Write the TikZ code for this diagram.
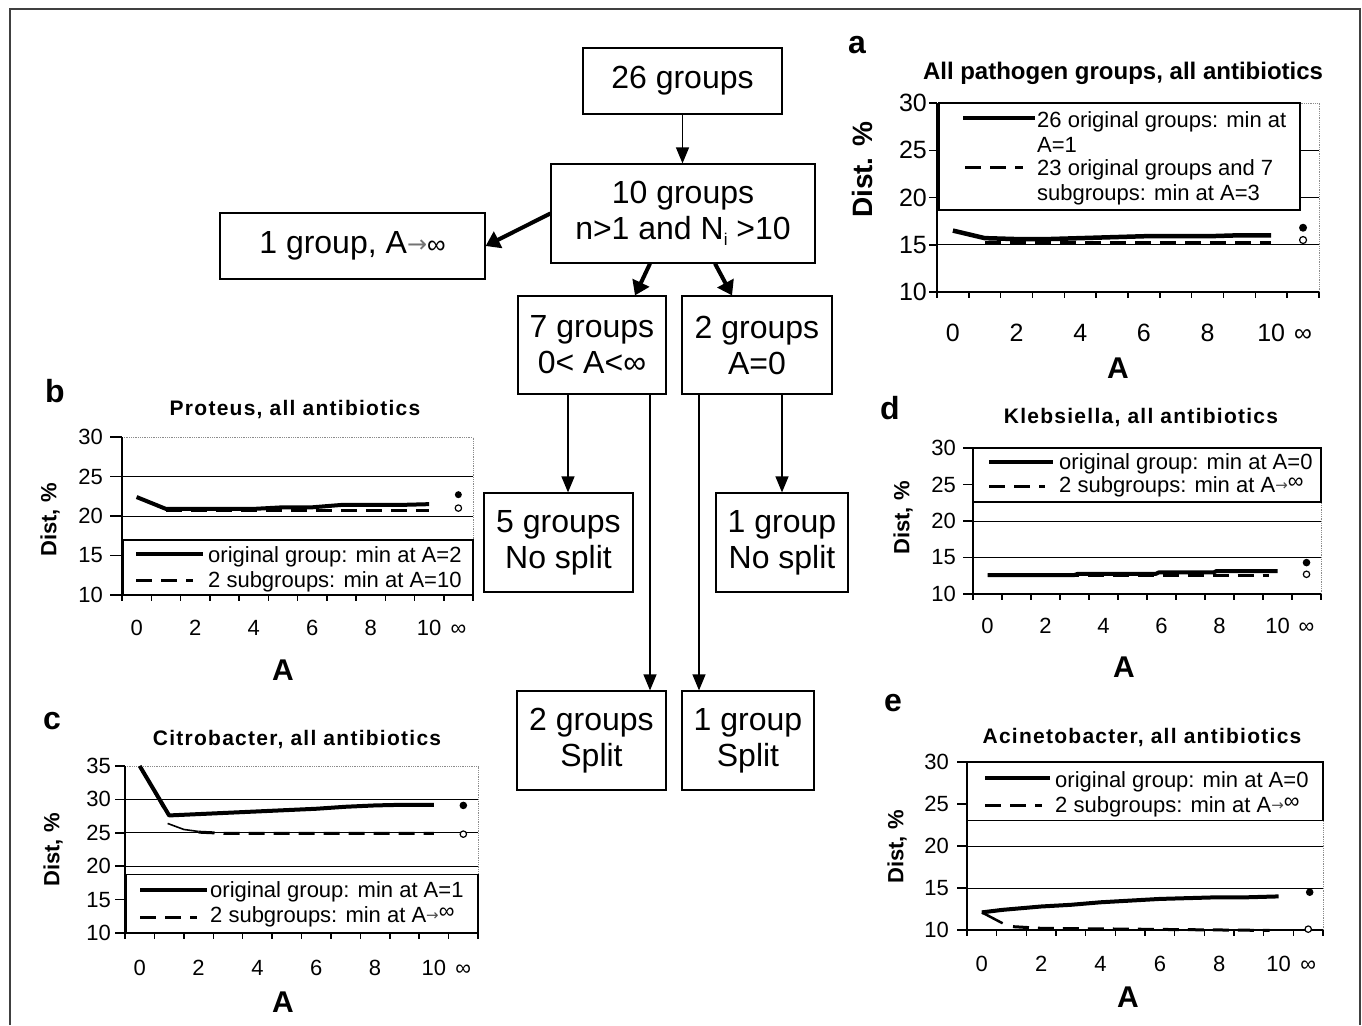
\documentclass[tikz,border=0pt]{standalone}
\usepackage{fontspec}
\setmainfont{Liberation Sans}
\newfontfamily\spacedfont[LetterSpace=6]{Liberation Sans}
\newfontfamily\djv{DejaVu Sans}
\usetikzlibrary{arrows.meta}
\newcommand\fsz[1]{\fontsize{#1}{#1}\selectfont}
\newcommand\infsym{∞}
\newcommand\legarrow{A{\color{black!70}\djv\fsz{15}\raisebox{0.15ex}{→}}{\raisebox{0.3ex}{∞}}}
\begin{document}
\begin{tikzpicture}[x=1pt,y=-1pt,
 box/.style={draw, line width=1.2pt, inner sep=0pt, align=center, font=\fontsize{32}{36}\selectfont},
 arr/.style={line width=1.3pt, -{Triangle[length=16pt,width=13pt]}},
 tarr/.style={line width=4pt, -{Triangle[length=14pt,width=18pt]}},
 gline/.style={line width=1pt},
 dotgrid/.style={line width=0.8pt, densely dotted, black!45},
 axl/.style={line width=1.5pt},
 legbox/.style={draw, line width=1.3pt, fill=white},
 sol/.style={line width=4pt, line join=round},
 dsh/.style={line width=3pt, dash pattern=on 16pt off 9pt},
 tline/.style={line width=1.6pt},
 plet/.style={inner sep=0pt, font=\fsz{32}\bfseries},
 ttla/.style={inner sep=0pt, font=\fsz{24}\bfseries},
 ttl/.style={inner sep=0pt, font=\spacedfont\fsz{21}\bfseries},
 ylabel/.style={inner sep=0pt, rotate=90, font=\fsz{#1}\bfseries},
 xlabel/.style={inner sep=0pt, font=\fsz{30}\bfseries},
 ytl/.style={inner sep=0pt, anchor=east, font=\fsz{#1}},
 xtl/.style={inner sep=0pt, anchor=base, font=\fsz{#1}},
 legt/.style={inner sep=0pt, anchor=base west, font=\fsz{22}},
 dotf/.style={fill=black},
 doto/.style={draw=black, line width=1.2pt, fill=white}
]
\useasboundingbox (0,0) rectangle (1362,1025);
% outer frame
\draw[line width=2pt, black!75] (10,1025) -- (10,9) -- (1360,9) -- (1360,1025);

% ================= flowchart =================
\node[box, minimum width=199pt, minimum height=66pt] (g26) at (682.5,81) {26 groups};
\node[box, minimum width=264pt, minimum height=99pt] (g10) at (683,213.5) {10 groups\\n>1 and N\raisebox{-0.35ex}{\fsz{17}i} >10};
\node[box, minimum width=265pt, minimum height=66pt] (g1inf) at (352.5,246) {1 group, A{\color{black!55}\djv\fsz{24}\raisebox{0.1ex}{→}}{\fsz{26}∞}};
\node[box, minimum width=148pt, minimum height=98pt] (g7) at (592,345) {7 groups\\0< A<∞};
\node[box, minimum width=150pt, minimum height=98pt] (g2) at (757,345) {2 groups\\A=0};
\node[box, minimum width=149pt, minimum height=99pt] (g5) at (558.5,542.5) {5 groups\\No split};
\node[box, minimum width=132pt, minimum height=99pt] (g1ns) at (782,542.5) {1 group\\No split};
\node[box, minimum width=149pt, minimum height=99pt] (g2s) at (591.5,740.5) {2 groups\\Split};
\node[box, minimum width=132pt, minimum height=99pt] (g1s) at (748,740.5) {1 group\\Split};

\draw[arr] (g26.south) -- (g26.south |- g10.north);
\draw[tarr] (g10.west) -- (g1inf.east);
\draw[tarr] ([xshift=-33pt]g10.south) -- ([xshift=43pt]g7.north);
\draw[tarr] ([xshift=32pt]g10.south) -- ([xshift=-25pt]g2.north);
\draw[arr] ([xshift=-24pt]g7.south) -- ([xshift=-24pt]g7.south |- g5.north);
\draw[arr] ([xshift=58pt]g7.south) -- ([xshift=58pt]g7.south |- g2s.north);
\draw[arr] ([xshift=-58pt]g2.south) -- ([xshift=-58pt]g2.south |- g1s.north);
\draw[arr] ([xshift=25pt]g2.south) -- ([xshift=25pt]g2.south |- g1ns.north);

% ================= chart a =================
\node[plet] (a-let) at (857,45) {a};
\node[ttla] (a-ttl) at (1123,73) {All pathogen groups, all antibiotics};
\node[ylabel=28] (a-ylab) at (862,170) {Dist. \%};
\node[xlabel] (a-xlab) at (1118,368) {A};
\begin{scope}[shift={(937,386.5)}, x=31.83pt, y=9.45pt]
 \draw[gline] (0,15) -- (12,15) (0,20) -- (12,20) (0,25) -- (12,25);
 \draw[dotgrid] (0,30) -- (12,30) (12,10) -- (12,30);
 \draw[legbox] (0.06,30) rectangle (11.4,18.68);
 \draw[axl] (0,30) -- (0,10) -- (12,10);
 \foreach \v in {10,15,20,25,30} {
   \draw[axl] (0,\v) -- ++(-8pt,0pt);
   \node[ytl=25] (a-y\v) at ([xshift=-10pt]0,\v) {\v};
 }
 \foreach \c in {0,...,12} \draw[axl] (\c,10) -- ++(0pt,-6pt);
 \foreach \c/\t in {0/0,2/2,4/4,6/6,8/8,10/10,11/\infsym}
   \node[xtl=25] (a-x\c) at ([yshift=-49pt]\c+0.5,10) {\t};
 \draw[sol, line width=4.5pt] plot coordinates {(0.5,16.5) (1.5,15.7) (2.5,15.6) (3.5,15.6) (4.5,15.7) (5.5,15.8) (6.5,15.9) (7.5,15.9) (8.5,15.9) (9.5,16.0) (10.5,16.0)};
 \draw[dsh] plot coordinates {(1.5,15.2) (10.5,15.2)};
 \fill[dotf] (11.5,16.8) circle[radius=4pt];
 \draw[doto] (11.5,15.5) circle[radius=3.5pt];
\end{scope}
\draw[sol, line width=4.5pt] (963,118) -- (1035,118);
\node[legt] (a-l1) at (1037,127) {26 original groups: min at};
\node[legt] (a-l2) at (1037,152) {A=1};
\draw[dsh] (965,167) -- (1023,167);
\node[legt] (a-l3) at (1037,175) {23 original groups and 7};
\node[legt] (a-l4) at (1037,200) {subgroups: min at A=3};

% ================= chart b =================
\node[plet] (b-let) at (55,391) {b};
\node[ttl] (b-ttl) at (295,410) {Proteus, all antibiotics};
\node[ylabel=22] (b-ylab) at (50,520) {Dist, \%};
\node[xlabel] (b-xlab) at (283,670) {A};
\begin{scope}[shift={(122,674)}, x=29.25pt, y=7.9pt]
 \draw[gline] (0,20) -- (12,20) (0,25) -- (12,25);
 \draw[dotgrid] (0,30) -- (12,30) (12,10) -- (12,30);
 \draw[legbox] (0.03,16.96) rectangle (12,10);
 \draw[axl] (0,30) -- (0,10) -- (12,10);
 \foreach \v in {10,15,20,25,30} {
   \draw[axl] (0,\v) -- ++(-12pt,0pt);
   \node[ytl=22] (b-y\v) at ([xshift=-19pt]0,\v) {\v};
 }
 \foreach \c in {0,...,12} \draw[axl] (\c,10) -- ++(0pt,-6pt);
 \foreach \c/\t in {0/0,2/2,4/4,6/6,8/8,10/10,11/\infsym}
   \node[xtl=22] (b-x\c) at ([yshift=-40pt]\c+0.5,10) {\t};
 \draw[sol] plot coordinates {(0.5,22.4) (1.5,20.9) (2.5,20.9) (3.5,20.9) (4.5,20.9) (5.5,21.1) (6.5,21.1) (7.5,21.4) (8.5,21.4) (9.5,21.4) (10.5,21.5)};
 \draw[dsh] plot coordinates {(1.5,20.7) (10.5,20.7)};
 \fill[dotf] (11.5,22.7) circle[radius=3.5pt];
 \draw[doto] (11.5,21.0) circle[radius=3.2pt];
\end{scope}
\draw[sol] (136,554) -- (203,554);
\node[legt] (b-l1) at (208,562) {original group: min at A=2};
\draw[dsh] (136,580) -- (193,580);
\node[legt] (b-l2) at (208,587) {2 subgroups: min at A=10};

% ================= chart c =================
\node[plet] (c-let) at (52,721) {c};
\node[ttl] (c-ttl) at (297,740) {Citrobacter, all antibiotics};
\node[ylabel=22] (c-ylab) at (53,850) {Dist, \%};
\node[xlabel] (c-xlab) at (283,1002) {A};
\begin{scope}[shift={(125,999.8)}, x=29.42pt, y=6.68pt]
 \draw[gline] (0,20) -- (12,20) (0,25) -- (12,25) (0,30) -- (12,30);
 \draw[dotgrid] (0,35) -- (12,35) (12,10) -- (12,35);
 \draw[legbox] (0.03,18.8) rectangle (12,10);
 \draw[axl] (0,35) -- (0,10) -- (12,10);
 \foreach \v in {10,15,20,25,30,35} {
   \draw[axl] (0,\v) -- ++(-10pt,0pt);
   \node[ytl=22] (c-y\v) at ([xshift=-14pt]0,\v) {\v};
 }
 \foreach \c in {0,...,12} \draw[axl] (\c,10) -- ++(0pt,-6pt);
 \foreach \c/\t in {0/0,2/2,4/4,6/6,8/8,10/10,11/\infsym}
   \node[xtl=22] (c-x\c) at ([yshift=-42pt]\c+0.5,10) {\t};
 \draw[sol] plot coordinates {(0.5,35) (1.5,27.6) (2.5,27.8) (3.5,28.0) (4.5,28.2) (5.5,28.4) (6.5,28.6) (7.5,28.9) (8.5,29.1) (9.5,29.2) (10.5,29.2)};
 \draw[tline] (0.5,35) -- (1.3,28.7);
 \draw[tline] (1.45,26.4) -- (2.0,25.5) -- (2.5,25.2);
 \draw[dsh] plot coordinates {(2.5,25.1) (3.5,24.9) (10.5,24.9)};
 \fill[dotf] (11.5,29.1) circle[radius=3.8pt];
 \draw[doto] (11.5,24.8) circle[radius=3.2pt];
\end{scope}
\draw[sol] (140,890) -- (207,890);
\node[legt] (c-l1) at (210,897) {original group: min at A=1};
\draw[dsh] (140,917) -- (197,917);
\node[legt] (c-l2) at (210,922) {2 subgroups: min at \legarrow};

% ================= chart d =================
\node[plet] (d-let) at (890,408) {d};
\node[ttl] (d-ttl) at (1141,418) {Klebsiella, all antibiotics};
\node[ylabel=22] (d-ylab) at (903,518) {Dist, \%};
\node[xlabel] (d-xlab) at (1124,667) {A};
\begin{scope}[shift={(973,667)}, x=29pt, y=7.3pt]
 \draw[gline] (0,15) -- (12,15) (0,20) -- (12,20);
 \draw[dotgrid] (12,10) -- (12,22.6);
 \draw[legbox] (0,30) rectangle (12,22.6);
 \draw[axl] (0,30) -- (0,10) -- (12,10);
 \foreach \v in {10,15,20,25,30} {
   \draw[axl] (0,\v) -- ++(-10pt,0pt);
   \node[ytl=22] (d-y\v) at ([xshift=-17pt]0,\v) {\v};
 }
 \foreach \c in {0,...,12} \draw[axl] (\c,10) -- ++(0pt,-6pt);
 \foreach \c/\t in {0/0,2/2,4/4,6/6,8/8,10/10,11/\infsym}
   \node[xtl=22] (d-x\c) at ([yshift=-39pt]\c+0.5,10) {\t};
 \draw[dsh] plot coordinates {(0.5,12.5) (10.2,12.5)};
 \draw[sol] plot coordinates {(0.5,12.6) (3.5,12.6) (3.6,12.75) (6.3,12.75) (6.4,12.95) (8.3,12.95) (8.4,13.15) (10.5,13.15)};
 \fill[dotf] (11.5,14.3) circle[radius=3.8pt];
 \draw[doto] (11.5,12.7) circle[radius=3.2pt];
\end{scope}
\draw[sol] (989,462) -- (1053,462);
\node[legt] (d-l1) at (1059,469) {original group: min at A=0};
\draw[dsh] (989,486) -- (1045,486);
\node[legt] (d-l2) at (1059,492) {2 subgroups: min at \legarrow};

% ================= chart e =================
\node[plet] (e-let) at (893,703) {e};
\node[ttl] (e-ttl) at (1142,738) {Acinetobacter, all antibiotics};
\node[ylabel=22] (e-ylab) at (897,847) {Dist, \%};
\node[xlabel] (e-xlab) at (1128,997) {A};
\begin{scope}[shift={(967,1014)}, x=29.67pt, y=8.4pt]
 \draw[gline] (0,15) -- (12,15) (0,20) -- (12,20);
 \draw[dotgrid] (12,10) -- (12,23);
 \draw[legbox] (0,30) rectangle (12,23);
 \draw[axl] (0,30) -- (0,10) -- (12,10);
 \foreach \v in {10,15,20,25,30} {
   \draw[axl] (0,\v) -- ++(-10pt,0pt);
   \node[ytl=22] (e-y\v) at ([xshift=-18pt]0,\v) {\v};
 }
 \foreach \c in {0,...,12} \draw[axl] (\c,10) -- ++(0pt,-6pt);
 \foreach \c/\t in {0/0,2/2,4/4,6/6,8/8,10/10,11/\infsym}
   \node[xtl=22] (e-x\c) at ([yshift=-41pt]\c+0.5,10) {\t};
 \draw[sol] plot coordinates {(0.5,12.1) (1.2,12.4) (2.5,12.8) (3.5,13.0) (4.5,13.3) (5.5,13.5) (6.5,13.7) (7.5,13.8) (8.5,13.9) (9.5,13.9) (10.5,14.0)};
 \draw[tline, line width=2.5pt] (0.5,12.1) -- (1.2,10.8);
 \draw[dsh] plot coordinates {(1.55,10.4) (2.5,10.2) (10.2,9.95)};
 \fill[dotf] (11.55,14.5) circle[radius=3.8pt];
 \draw[doto] (11.5,10.1) circle[radius=3.2pt];
\end{scope}
\draw[sol] (985,778) -- (1050,778);
\node[legt] (e-l1) at (1055,787) {original group: min at A=0};
\draw[dsh] (985,805) -- (1042,805);
\node[legt] (e-l2) at (1055,812) {2 subgroups: min at \legarrow};
\end{tikzpicture}
\end{document}
